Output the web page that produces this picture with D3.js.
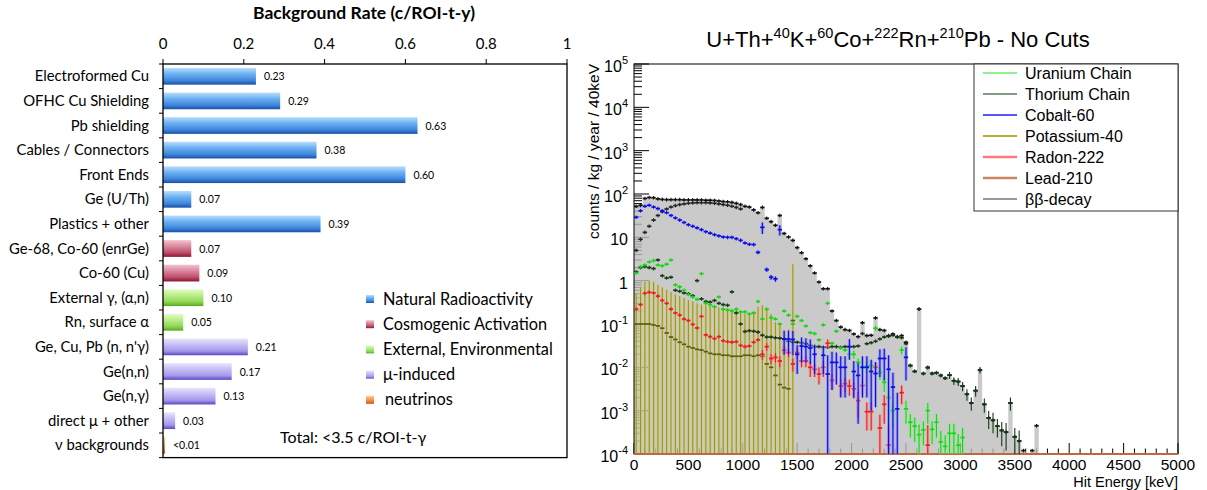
<!DOCTYPE html>
<html>
<head>
<meta charset="utf-8">
<script src="https://cdn.jsdelivr.net/npm/d3@7"></script>
<style>
  body { margin: 0; background: #fff; }
  svg { display: block; }
</style>
</head>
<body>
<div id="chart"></div>
<script>
// ---------- left panel data ----------
var categories = ["Electroformed Cu", "OFHC Cu Shielding", "Pb shielding", "Cables / Connectors", "Front Ends",
  "Ge (U/Th)", "Plastics + other", "Ge-68, Co-60 (enrGe)", "Co-60 (Cu)", "External γ, (α,n)", "Rn, surface α",
  "Ge, Cu,  Pb (n, n'γ)", "Ge(n,n)", "Ge(n,γ)", "direct μ + other", "ν backgrounds"];
var rates = [0.23, 0.29, 0.63, 0.38, 0.60, 0.07, 0.39, 0.07, 0.09, 0.10, 0.05, 0.21, 0.17, 0.13, 0.03, 0.005];
var rateLabels = ["0.23", "0.29", "0.63", "0.38", "0.60", "0.07", "0.39", "0.07", "0.09", "0.10", "0.05",
  "0.21", "0.17", "0.13", "0.03", "<0.01"];
var groupOf = [0, 0, 0, 0, 0, 0, 0, 1, 1, 2, 2, 3, 3, 3, 3, 4];
var groups = ["Natural Radioactivity", "Cosmogenic Activation", "External, Environmental", "μ-induced", "neutrinos"];
var rateTicks = [0, 0.2, 0.4, 0.6, 0.8, 1];

// ---------- right panel data (40 keV bins) ----------
var binWidth = 40;
// total of all components, one value per bin starting at 0 keV
var totalCounts = [
  52, 55, 79, 83, 82, 77, 75, 74, 74, 74, 74, 73, 73, 73, 73, 73, 72, 72, 71, 69, 67, 66, 64, 61, 57,
  52, 50, 43, 37, 49, 27.5, 23, 19, 32, 12.3, 10.2, 8.5, 5.8, 4.4, 3.2, 2.2, 1.5, 0.93, 0.65, 0.65, 0.2, 0.12, 0.085, 0.074, 0.071,
  0.059, 0.051, 0.107, 0.054, 0.055, 0.138, 0.074, 0.071, 0.054, 0.059, 0.051, 0.054, 0.038, 0.011, 0.0081, 0.22, 0.0072, 0.01,
  0.0072, 0.0075, 0.0065, 0.0056, 0.0066, 0.0049, 0.0047,
  0.0037, 0.0024, 0.0015, 0.0029, 0.0087, 0.0014, 0.00068, 0.0006, 0.00044, 0.00035, 0.00032, 0.0015, 0.00025, 0.0002,
  0.00012, 0, 0.00012, 0.00045, 0, 0, 0, 0, 0, 0, 0,
  0, 0, 0, 0, 0, 0, 0, 0, 0, 0, 0, 0, 0, 0, 0, 0, 0, 0, 0, 0, 0, 0, 0, 0, 0];

// [bin centre keV, value, error]
var uranium = [[20, 1.5], [60, 2.1], [100, 2.3], [140, 2.7], [180, 2.9], [220, 2.3], [260, 2.2], [300, 2.4], [340, 3.0],
  [380, 0.8], [420, 0.72], [460, 0.6], [500, 0.48], [540, 0.42], [580, 0.37], [620, 1.45], [660, 0.3], [700, 0.28],
  [740, 0.25], [780, 0.42], [820, 0.22], [860, 0.21], [900, 0.2], [940, 0.22], [980, 0.19], [1020, 0.19], [1060, 0.17],
  [1100, 0.18], [1140, 0.33], [1180, 0.13], [1220, 0.22], [1260, 0.14], [1300, 0.13], [1340, 0.1], [1380, 0.2],
  [1420, 0.16], [1460, 0.1], [1500, 0.15], [1540, 0.12], [1580, 0.09], [1620, 0.063], [1660, 0.06], [1700, 0.043],
  [1740, 0.095], [1780, 0.3], [1820, 0.036], [1860, 0.068], [1900, 0.028], [1940, 0.025], [1980, 0.02, 0.004],
  [2020, 0.02, 0.004], [2060, 0.013, 0.003], [2100, 0.01, 0.003], [2140, 0.0105, 0.003], [2180, 0.011, 0.003],
  [2220, 0.08, 0.01], [2260, 0.0076, 0.0025], [2300, 0.0045, 0.0018], [2340, 0.002, 0.001], [2380, 0.001, 0.0006],
  [2460, 0.025, 0.005], [2500, 0.0011, 0.0006], [2540, 0.00054, 0.0003], [2580, 0.00044, 0.00025], [2620, 0.00028, 0.0002],
  [2660, 0.00036, 0.0002], [2700, 0.001, 0.0005], [2740, 0.00037, 0.0002], [2780, 0.00054, 0.0003], [2820, 0.00019, 0.00015],
  [2860, 0.00015, 0.00012], [2900, 0.0003, 0.0002], [2940, 0.0003, 0.0002], [2980, 0.00016, 0.00013], [3020, 0.00024, 0.00016]];

var thorium = [[20, 1.6], [60, 2.0], [100, 2.1], [140, 2.0], [180, 1.9], [220, 3.0], [260, 1.3], [300, 1.15], [340, 1.2],
  [380, 0.6], [420, 0.57], [460, 0.52], [500, 0.5], [540, 0.45], [580, 1.0], [620, 0.38], [660, 0.33], [700, 0.32],
  [740, 0.35], [780, 0.3], [820, 0.28], [860, 0.27], [900, 0.55], [940, 0.18], [980, 0.1], [1020, 0.067], [1060, 0.07],
  [1100, 0.068], [1140, 0.065], [1180, 0.055], [1220, 0.05], [1260, 0.05], [1300, 0.048], [1340, 0.047], [1380, 0.045],
  [1420, 0.04], [1460, 0.038], [1500, 0.038], [1540, 0.037], [1580, 0.035], [1620, 0.032], [1660, 0.03], [1700, 0.03],
  [1740, 0.029], [1780, 0.029], [1820, 0.03], [1860, 0.03], [1900, 0.029], [1940, 0.03], [1980, 0.03], [2020, 0.03],
  [2060, 0.031], [2100, 0.06], [2140, 0.035], [2180, 0.037], [2220, 0.04], [2260, 0.045], [2300, 0.05], [2340, 0.052],
  [2380, 0.055], [2420, 0.05], [2460, 0.048], [2500, 0.035], [2540, 0.011], [2580, 0.008], [2620, 0.22], [2660, 0.0072],
  [2700, 0.0098], [2740, 0.0072], [2780, 0.0075], [2820, 0.0065], [2860, 0.0056], [2900, 0.0066, 0.0012],
  [2940, 0.0049, 0.001], [2980, 0.0047, 0.001], [3020, 0.0037, 0.0009], [3060, 0.0024, 0.0007], [3100, 0.0015, 0.0005],
  [3140, 0.0029, 0.0008], [3180, 0.0087, 0.0015], [3220, 0.0014, 0.0005], [3260, 0.00068, 0.0003], [3300, 0.0006, 0.0003],
  [3340, 0.00044, 0.0002], [3380, 0.00035, 0.0002], [3420, 0.00032, 0.0002], [3460, 0.0015, 0.0005],
  [3500, 0.00025, 0.00015], [3540, 0.0002, 0.00015]];

var cobalt = [[20, 29], [60, 41], [100, 52], [140, 55], [180, 50], [220, 46], [260, 41], [300, 37], [340, 32], [380, 28],
  [420, 25], [460, 22], [500, 19.5], [540, 18], [580, 16.5], [620, 15], [660, 13.5], [700, 12.5], [740, 11.5], [780, 10.8],
  [820, 10.2], [860, 10], [900, 10], [940, 9.3], [980, 8.5], [1020, 7.4], [1060, 6.9], [1100, 6.8], [1140, 4.5, 0.4],
  [1180, 17, 5], [1220, 1.8, 0.2], [1260, 1.2, 0.15], [1300, 1.1, 0.15], [1340, 15, 4],
  [1380, 0.045, 0.025], [1420, 0.045, 0.025], [1460, 0.044, 0.025], [1500, 0.02, 0.013], [1540, 0.031, 0.018],
  [1580, 0.03, 0.017], [1620, 0.028, 0.016], [1660, 0.02, 0.013], [1740, 0.019, 0.012], [1780, 0.007, 0.012],
  [1820, 0.013, 0.01], [1860, 0.013, 0.009], [1900, 0.01, 0.008], [1940, 0.01, 0.008], [1980, 0.03, 0.015],
  [2020, 0.008, 0.006], [2060, 0.0065, 0.006], [2100, 0.01, 0.008], [2140, 0.01, 0.008], [2180, 0.008, 0.007],
  [2220, 0.0072, 0.006], [2260, 0.016, 0.01], [2300, 0.016, 0.011], [2340, 0.009, 0.01], [2380, 0.0035, 0.004],
  [2420, 0.0011, 0.0015], [2500, 0.017, 0.012]];

// [bin centre keV, value, upper end of error bar]
var potassium = [[20, 0.1, 0.5], [60, 0.1, 0.7], [100, 0.1, 0.95], [140, 0.1, 1.0], [180, 0.095, 0.95], [220, 0.09, 0.8],
  [260, 0.08, 0.7], [300, 0.062, 0.62], [340, 0.05, 0.55], [380, 0.044, 0.48], [420, 0.038, 0.44], [460, 0.034, 0.4],
  [500, 0.03, 0.36], [540, 0.028, 0.33], [580, 0.026, 0.3], [620, 0.025, 0.28], [660, 0.023, 0.27], [700, 0.021, 0.26],
  [740, 0.02, 0.25], [780, 0.02, 0.24], [820, 0.019, 0.23], [860, 0.019, 0.23], [900, 0.018, 0.22], [940, 0.018, 0.21],
  [980, 0.018, 0.2], [1020, 0.019, 0.17], [1060, 0.019, 0.16], [1100, 0.018, 0.2], [1140, 0.019, 0.25],
  [1180, 0.018, 0.27], [1220, 0.012, 0.22], [1260, 0.01, 0.17], [1300, 0.0065, 0.11], [1340, 0.004, 0.1],
  [1380, 0.0034, 0.07], [1420, 0.0032, 0.075], [1460, 0.12, 2.4]];

var radon = [[20, 0.22], [60, 0.28], [100, 0.51], [140, 0.54], [180, 0.52], [220, 0.44], [260, 0.35], [300, 0.30],
  [340, 0.22], [380, 0.18], [420, 0.16], [460, 0.13], [500, 0.12], [540, 0.098], [580, 0.081], [620, 0.15], [660, 0.056],
  [700, 0.051], [740, 0.046], [780, 0.051], [820, 0.041], [860, 0.039], [900, 0.038], [940, 0.039], [980, 0.032],
  [1020, 0.03], [1060, 0.031], [1100, 0.038], [1140, 0.043], [1180, 0.02, 0.005], [1220, 0.03, 0.006],
  [1260, 0.016, 0.004], [1300, 0.017, 0.004], [1340, 0.014, 0.004], [1380, 0.025, 0.006], [1420, 0.022, 0.005],
  [1460, 0.012, 0.004], [1500, 0.022, 0.006], [1540, 0.014, 0.004], [1580, 0.014, 0.004], [1620, 0.01, 0.004],
  [1660, 0.009, 0.003], [1700, 0.007, 0.003], [1740, 0.01, 0.004], [1780, 0.036, 0.008], [1820, 0.005, 0.002],
  [1900, 0.0037, 0.0015], [1940, 0.0042, 0.0015], [1980, 0.0037, 0.0015], [2020, 0.0032, 0.0013], [2060, 0.0017, 0.001],
  [2100, 0.0038, 0.0015], [2140, 0.00095, 0.0006], [2180, 0.00095, 0.0006], [2220, 0.01, 0.003], [2260, 0.0004, 0.0004],
  [2300, 0.0014, 0.0009], [2340, 0.00016, 0.0003], [2460, 0.0026, 0.0012], [2700, 0.00016, 0.0003]];

var lead210 = [[0, 0], [5000, 0]];

var doubleBeta = [[20, 5], [60, 9], [100, 13], [140, 18], [180, 25], [220, 32], [260, 39], [300, 45], [340, 50], [380, 54],
  [420, 57], [460, 59], [500, 61], [540, 62], [580, 63], [620, 63], [660, 63], [700, 62], [740, 61], [780, 59], [820, 57],
  [860, 55], [900, 52], [940, 49], [980, 45]];

var seriesNames = ["Uranium Chain", "Thorium Chain", "Cobalt-60", "Potassium-40", "Radon-222", "Lead-210", "ββ-decay"];
var energyTicks = [0, 500, 1000, 1500, 2000, 2500, 3000, 3500, 4000, 4500, 5000];

// ---------- svg ----------
var svg = d3.select("#chart").append("svg")
  .attr("width", 1207)
  .attr("height", 490);

// ================= LEFT : bar chart =================
var L = { left: 163, right: 567, top: 64, bottom: 457.6 };
var FONT_L = "Lato, 'Open Sans', sans-serif";

var xRate = d3.scaleLinear().domain([0, 1]).range([L.left, L.right]);
var yCat = d3.scaleBand().domain(categories).range([L.top, L.bottom]).paddingInner(0.32).paddingOuter(0.16);

// gradients, light at top and dark at the bottom like the excel bars
var gradStops = [
  ["#b9defd", "#6fb2f2", "#3f86dc", "#1a4fa6"],
  ["#f3c2cf", "#dc8ba2", "#bd4d6b", "#8c1530"],
  ["#e3fbc6", "#bcee8c", "#8fd653", "#54a81e"],
  ["#e8e5fc", "#c7c0f5", "#a398ea", "#5a48c2"],
  ["#fbd0a8", "#f6a568", "#ec7a30", "#c8500c"]
];
var defs = svg.append("defs");
gradStops.forEach(function (stops, i) {
  var g = defs.append("linearGradient").attr("id", "grad" + i)
    .attr("x1", 0).attr("y1", 0).attr("x2", 0).attr("y2", 1);
  [0, 0.35, 0.75, 1].forEach(function (o, j) {
    g.append("stop").attr("offset", o).attr("stop-color", stops[j]);
  });
});

// title
svg.append("text")
  .attr("x", 364).attr("y", 19)
  .attr("text-anchor", "middle")
  .style("font-family", FONT_L).style("font-weight", "bold").style("font-size", "17.5px")
  .text("Background Rate (c/ROI-t-y)");

// top axis ticks + labels
var gTop = svg.append("g");
rateTicks.forEach(function (t) {
  gTop.append("line")
    .attr("x1", xRate(t)).attr("x2", xRate(t)).attr("y1", L.top - 5).attr("y2", L.top)
    .attr("stroke", "#000").attr("stroke-width", 1);
  gTop.append("text")
    .attr("x", xRate(t)).attr("y", 49)
    .attr("text-anchor", "middle")
    .style("font-family", FONT_L).style("font-size", "15px")
    .text(t === 0 || t === 1 ? String(t) : t.toFixed(1));
});

// bars
svg.selectAll(".bar")
  .data(categories)
  .enter()
  .append("rect")
  .attr("class", "bar")
  .attr("x", xRate(0))
  .attr("y", function (d) { return yCat(d); })
  .attr("width", function (d, i) { return xRate(rates[i]) - xRate(0); })
  .attr("height", yCat.bandwidth())
  .attr("fill", function (d, i) { return "url(#grad" + groupOf[i] + ")"; });

// value labels
svg.selectAll(".val")
  .data(categories)
  .enter()
  .append("text")
  .attr("class", "val")
  .attr("x", function (d, i) { return xRate(rates[i]) + 8; })
  .attr("y", function (d) { return yCat(d) + yCat.bandwidth() / 2 + 4; })
  .style("font-family", FONT_L).style("font-size", "10.5px")
  .text(function (d, i) { return rateLabels[i]; });

// category labels
svg.selectAll(".cat")
  .data(categories)
  .enter()
  .append("text")
  .attr("class", "cat")
  .attr("x", 149)
  .attr("y", function (d) { return yCat(d) + yCat.bandwidth() / 2 + 5; })
  .attr("text-anchor", "end")
  .style("font-family", FONT_L).style("font-size", "14.8px")
  .text(function (d) { return d; });

// left ticks between categories
var step = yCat.step();
d3.range(categories.length + 1).forEach(function (i) {
  var y = L.top + i * step;
  svg.append("line").attr("x1", L.left - 4).attr("x2", L.left).attr("y1", y).attr("y2", y)
    .attr("stroke", "#000").attr("stroke-width", 1);
});

// box
svg.append("rect")
  .attr("x", L.left).attr("y", L.top)
  .attr("width", L.right - L.left).attr("height", L.bottom - L.top)
  .attr("fill", "none").attr("stroke", "#000").attr("stroke-width", 1.3);

// legend
var legL = svg.append("g");
groups.forEach(function (g, i) {
  var y = 299 + i * 25.2;
  legL.append("rect").attr("x", 366).attr("y", y - 4).attr("width", 8).attr("height", 8)
    .attr("fill", "url(#grad" + i + ")");
  legL.append("text").attr("x", i === 4 ? 385 : 383).attr("y", y + 5.5)
    .style("font-family", FONT_L).style("font-size", "16.3px")
    .text(g);
});
svg.append("text").attr("x", 280).attr("y", 443)
  .style("font-family", FONT_L).style("font-size", "16px")
  .text("Total: <3.5 c/ROI-t-γ");

// ================= RIGHT : ROOT spectrum =================
var R = { left: 634, right: 1178, top: 64, bottom: 454 };
var FONT_R = "'Liberation Sans', Arial, sans-serif";
var xE = d3.scaleLinear().domain([0, 5000]).range([R.left, R.right]);
var yC = d3.scaleLog().domain([1e-4, 1e5]).range([R.bottom, R.top]).clamp(true);
function yv(v) { return v > 0 ? yC(v) : R.bottom; }

var gAx = svg.append("g").attr("stroke", "#000").attr("stroke-width", 1);
// y ticks (log, major + minor)
d3.range(-4, 6).forEach(function (k) {
  var y = yC(Math.pow(10, k));
  gAx.append("line").attr("x1", R.left).attr("x2", R.left + 15).attr("y1", y).attr("y2", y);
  if (k < 5) {
    d3.range(2, 10).forEach(function (m) {
      var ym = yC(m * Math.pow(10, k));
      gAx.append("line").attr("x1", R.left).attr("x2", R.left + 8).attr("y1", ym).attr("y2", ym);
    });
  }
});
// x ticks
d3.range(0, 5001, 100).forEach(function (e) {
  var len = e % 500 === 0 ? 11 : 5.5;
  gAx.append("line").attr("x1", xE(e)).attr("x2", xE(e)).attr("y1", R.bottom).attr("y2", R.bottom - len);
});

// total histogram, gray filled steps
var histPts = totalCounts.map(function (v, i) { return [i * binWidth, v]; });
histPts.push([totalCounts.length * binWidth, 0]);
var area = d3.area()
  .curve(d3.curveStepAfter)
  .x(function (d) { return xE(d[0]); })
  .y0(R.bottom)
  .y1(function (d) { return yv(d[1]); });
svg.append("path").datum(histPts)
  .attr("d", area)
  .attr("fill", "#bdbdbd").attr("fill-opacity", 0.8);

// potassium-40 error bars (they reach the bottom)
var gK = svg.append("g");
potassium.forEach(function (d) {
  var x = xE(d[0]);
  gK.append("line").attr("x1", x).attr("x2", x).attr("y1", R.bottom).attr("y2", yC(d[2]))
    .attr("stroke", "#d2cd80").attr("stroke-width", 3).attr("opacity", 0.7);
  gK.append("line").attr("x1", x).attr("x2", x).attr("y1", R.bottom).attr("y2", yC(d[2]))
    .attr("stroke", "#9c9612").attr("stroke-width", 1.1);
});

// frame
svg.append("rect")
  .attr("x", R.left).attr("y", R.top)
  .attr("width", R.right - R.left).attr("height", R.bottom - R.top)
  .attr("fill", "none").attr("stroke", "#000").attr("stroke-width", 1);

// lead-210 sits on the bottom edge
svg.append("path").datum(lead210)
  .attr("d", d3.line().x(function (d) { return xE(d[0]); }).y(function (d) { return yv(d[1]); }))
  .attr("stroke", "#c0683a").attr("stroke-width", 2).attr("fill", "none");

// points with error bars
function drawPoints(data, colour, halo, upperIsEnd) {
  var g = svg.append("g");
  data.forEach(function (d) {
    if (d[1] < 1e-4) return;
    var x0 = xE(d[0] - binWidth / 2), x1 = xE(d[0] + binWidth / 2), xc = xE(d[0]), y = yC(d[1]);
    var yt = y - 1.8, yb = y + 1.8;
    if (d.length > 2) {
      var hi = upperIsEnd ? d[2] : d[1] + d[2];
      var lo = upperIsEnd ? 0 : d[1] - d[2];
      yt = Math.min(yt, yC(hi));
      yb = lo > 1e-4 ? Math.max(yb, yC(lo)) : R.bottom;
      if (halo) {
        g.append("line").attr("x1", xc).attr("x2", xc).attr("y1", yt).attr("y2", yb)
          .attr("stroke", halo).attr("stroke-width", 3.2).attr("opacity", 0.55);
      }
    }
    if (!upperIsEnd) {
      g.append("line").attr("x1", xc).attr("x2", xc).attr("y1", yt).attr("y2", yb)
        .attr("stroke", colour).attr("stroke-width", 1.1);
    }
    g.append("line").attr("x1", x0).attr("x2", x1).attr("y1", y).attr("y2", y)
      .attr("stroke", colour).attr("stroke-width", 1.7);
  });
}

var totalPts = totalCounts.map(function (v, i) { return [i * binWidth + binWidth / 2, v]; });
drawPoints(totalPts, "#111", null, false);
drawPoints(doubleBeta, "#222", null, false);
drawPoints(thorium, "#163816", null, false);
drawPoints(potassium, "#5e5a06", null, true);
drawPoints(radon, "#ee1c1c", "#ff8a8a", false);
drawPoints(uranium, "#12d812", "#8af08a", false);
drawPoints(cobalt, "#0a0aee", "#7f7ff8", false);

// y tick labels
d3.range(-4, 6).forEach(function (k) {
  var t = svg.append("text")
    .attr("x", 628).attr("y", yC(Math.pow(10, k)) + 8)
    .attr("text-anchor", "end")
    .style("font-family", FONT_R).style("font-size", "16px");
  if (k === 0) { t.text("1"); return; }
  if (k === 1) { t.text("10"); return; }
  t.append("tspan").text("10");
  t.append("tspan").attr("dy", -8).style("font-size", "11px").text(k < 0 ? "-" + (-k) : String(k));
});

// x tick labels
energyTicks.forEach(function (e) {
  svg.append("text")
    .attr("x", xE(e)).attr("y", 469.5)
    .attr("text-anchor", "middle")
    .style("font-family", FONT_R).style("font-size", "15.5px")
    .text(e);
});

// axis titles
svg.append("text")
  .attr("x", R.right).attr("y", 487)
  .attr("text-anchor", "end")
  .style("font-family", FONT_R).style("font-size", "14.5px")
  .text("Hit Energy [keV]");
svg.append("text")
  .attr("transform", "translate(599," + R.top + ") rotate(-90)")
  .attr("text-anchor", "end")
  .style("font-family", FONT_R).style("font-size", "15.5px")
  .text("counts / kg / year / 40keV");

// title with superscripts
var title = svg.append("text")
  .attr("x", 898).attr("y", 47)
  .attr("text-anchor", "middle")
  .style("font-family", FONT_R).style("font-size", "22px");
[["U+Th+", 0], ["40", 1], ["K+", 0], ["60", 1], ["Co+", 0], ["222", 1], ["Rn+", 0], ["210", 1], ["Pb - No Cuts", 0]]
  .forEach(function (p, i, arr) {
    var prevSup = i > 0 && arr[i - 1][1] === 1;
    var ts = title.append("tspan").text(p[0]);
    if (p[1] === 1) ts.attr("dy", -9).style("font-size", "14.5px");
    else if (prevSup) ts.attr("dy", 9);
  });

// legend box
var legR = svg.append("g");
legR.append("rect")
  .attr("x", 974).attr("y", R.top).attr("width", R.right - 974).attr("height", 147)
  .attr("fill", "#fff").attr("stroke", "#333").attr("stroke-width", 1);
var legColours = ["#1ee81e", "#0b3a0b", "#2020f0", "#b5ae2e", "#ff7878", "#c98660", "#333"];
var legWidths = [1, 1.2, 1.4, 1.8, 2.6, 2.6, 1];
seriesNames.forEach(function (n, i) {
  var y = 73 + i * 21;
  legR.append("line").attr("x1", 983).attr("x2", 1017).attr("y1", y).attr("y2", y)
    .attr("stroke", legColours[i]).attr("stroke-width", legWidths[i]);
  legR.append("text").attr("x", 1025).attr("y", y + 6)
    .style("font-family", FONT_R).style("font-size", "16px")
    .text(n);
});
</script>
</body>
</html>
